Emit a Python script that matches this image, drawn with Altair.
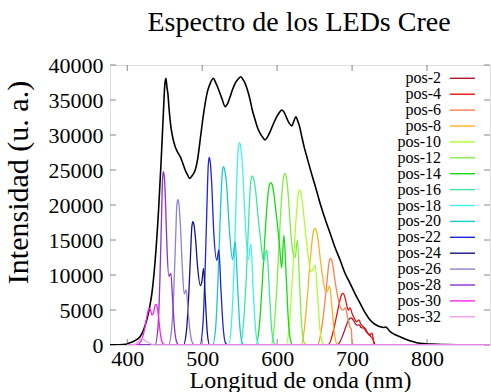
import altair as alt
import pandas as pd

# Axis ticks
x_ticks = [400, 500, 600, 700, 800]
y_ticks = [0, 5000, 10000, 15000, 20000, 25000, 30000, 35000, 40000]
x_domain = [377, 884]
y_domain = [0, 40000]

# Total spectrum (nm, intensity)
total = [(377, 30), (390, 40), (398, 100), (401.8, 240), (410, 600), (417, 1190), (422, 2200),
         (426, 3570), (429.5, 5200), (432.9, 7380), (437.3, 12140), (441.8, 19290), (445.3, 26430),
         (448.4, 33570), (450, 37000), (451.6, 38100), (453, 36800), (454.2, 35950), (456, 33500),
         (458.2, 31190), (461, 29500), (464, 28330), (467, 27600), (470.7, 26900), (474, 26000),
         (477.3, 25000), (480, 24400), (483.1, 23810), (486, 24100), (490.7, 25000), (494, 26600),
         (497.3, 29290), (500.5, 32000), (504, 34520), (507, 36200), (510.7, 37380), (515.1, 38100),
         (517.5, 37600), (520.4, 36900), (526.2, 35240), (530.7, 34050), (533.5, 34400), (537.3, 35480),
         (540.5, 36500), (544, 37380), (548, 38000), (551.6, 38330), (554, 38000), (557.3, 37380),
         (560.5, 36400), (564, 35000), (567, 33500), (570.7, 32140), (574, 31000), (577.3, 30240),
         (580.5, 29700), (584, 29290), (587, 29700), (590.7, 30480), (595, 31600), (599.6, 32620),
         (603, 33200), (606.2, 33570), (609, 33300), (612.9, 32380), (616, 31700), (619.6, 31300),
         (622, 31900), (625, 32600), (627.5, 32000), (630, 31200), (632.9, 29760), (636, 28300),
         (639.6, 26900), (644, 25200), (648.4, 23570), (653, 21900), (657.3, 20240), (664, 18000),
         (670.7, 15950), (677, 14000), (684, 12140), (690, 10400), (697.3, 8810), (704, 7300),
         (710.7, 5950), (717, 4700), (724, 3570), (730, 3000), (737.3, 2620), (742, 2500), (745, 2550),
         (750.7, 1900), (760, 1350), (768.4, 950), (777, 600), (786.2, 330), (795, 200), (804, 140),
         (820, 60), (840, 40), (860, 30), (884, 30)]

# Individual LED spectra (nm, intensity)
pos_2 = [(400, 0), (680, 0), (684, 500), (688, 1500), (692, 2700), (695, 3500), (697, 3800), (698.5, 3880),
         (700, 3800), (702, 3500), (704, 3100), (707, 2800), (709.5, 2900), (712, 2500), (715.6, 2400),
         (719, 1900), (722, 1500), (725, 1200), (728, 800), (731, 0), (884, 0)]
pos_4 = [(400, 0), (668, 0), (672, 800), (676, 2500), (680, 4500), (684, 6500), (686.2, 7250), (687.6, 7380),
         (689, 7250), (691, 6600), (693, 5600), (695, 5000), (697.5, 5300), (700, 4500), (703, 3800),
         (706, 3300), (709, 3600), (712, 2900), (715, 2600), (718, 2300), (721, 1700), (724, 1500),
         (726.7, 1710), (728.5, 600), (730, 0), (884, 0)]
pos_6 = [(400, 0), (654, 0), (658, 1500), (662, 4500), (666, 8500), (668.5, 11200), (670, 12200), (671.1, 12380),
         (672.5, 12200), (674.5, 11300), (677, 9300), (681, 6800), (685, 5200), (688, 5000), (691, 5300),
         (694, 4000), (697, 2600), (699, 2200), (700, 300), (703, 0), (884, 0)]
pos_8 = [(400, 0), (632, 0), (636, 2000), (640, 6500), (644, 12000), (647, 15200), (648.8, 16400), (650.2, 16670),
         (651.8, 16450), (654, 15500), (657, 12800), (661, 9500), (665, 7600), (667.5, 7800), (670, 8430),
         (673, 5500), (676, 2000), (679, 300), (682, 0), (884, 0)]
pos_10 = [(400, 0), (612, 0), (616, 2500), (620, 9000), (624, 16000), (626.5, 19800), (628.3, 21700), (629.8, 22140),
          (631.5, 21800), (633.5, 20500), (637, 17000), (641, 13000), (645, 10500), (648, 10800), (650.5, 11430),
          (654, 7000), (657, 2500), (660, 400), (663, 0), (884, 0)]
pos_12 = [(400, 0), (592, 0), (596, 2500), (600, 9000), (604, 17500), (607, 22500), (608.8, 24100), (610.4, 24520),
          (612, 24100), (614, 22500), (617, 18000), (620.5, 13500), (624, 12500), (627, 15000), (630, 8500),
          (633, 2500), (636, 300), (639, 0), (884, 0)]
pos_14 = [(400, 0), (572, 0), (576, 2500), (580, 8500), (584, 16000), (587.5, 21200), (589.8, 22900), (591.6, 23190),
          (593.4, 22900), (595.5, 21700), (599, 18500), (603, 14500), (606, 11000), (609, 15710), (612, 10000),
          (615, 3500), (618, 600), (621, 0), (884, 0)]
pos_16 = [(400, 0), (551, 0), (555, 3000), (559, 10000), (562.5, 19000), (564.8, 23300), (566.7, 24140), (568.6, 23800),
          (571, 22300), (574, 19000), (578, 15000), (582, 11900), (586.2, 13570), (589.5, 8000), (592.5, 2500),
          (595.5, 400), (598, 0), (884, 0)]
pos_18 = [(400, 0), (535, 0), (539, 3000), (542.5, 11000), (545.5, 21500), (548, 27900), (549.7, 28900), (551.4, 28300),
          (553.5, 26000), (557, 18500), (561.5, 12200), (564.9, 14430), (568, 8000), (571, 2500), (574, 300),
          (577, 0), (884, 0)]
pos_20 = [(400, 0), (514, 0), (518, 2500), (521, 9000), (524.5, 19500), (526.8, 24600), (528.4, 25480), (530, 25000),
          (532.5, 23000), (536, 17000), (540.5, 12200), (544, 14760), (547, 9000), (550, 3000), (553, 400),
          (556, 0), (884, 0)]
pos_22 = [(400, 0), (497, 0), (501, 3000), (504, 11000), (506.5, 20500), (508, 25500), (509.3, 26810), (510.7, 26200),
          (512.5, 23500), (515.5, 16000), (519.5, 12100), (522.2, 13570), (525, 8000), (528, 2500), (531, 300),
          (534, 0), (884, 0)]
pos_24 = [(400, 0), (475, 0), (479, 2000), (482, 7000), (484.5, 13000), (486.2, 16900), (487.6, 17620), (489, 17200),
          (491, 15300), (494, 11000), (497.5, 8500), (499.5, 9000), (501.8, 10950), (504, 7000), (507, 1500),
          (510, 0), (884, 0)]
pos_26 = [(400, 0), (455, 0), (459, 2000), (462, 7500), (464.5, 15000), (466.2, 20000), (467.6, 20810), (469, 20100),
          (471, 17000), (473.5, 11000), (476, 7300), (478.7, 7860), (481.5, 4500), (484, 1800), (487, 300),
          (490, 0), (884, 0)]
pos_28 = [(400, 0), (437, 0), (441, 2500), (443.5, 9000), (445.8, 18500), (447.2, 23800), (448.4, 24760),
          (449.6, 23900), (451.2, 20000), (453, 14000), (455.5, 9800), (458.2, 10240), (460.5, 6500),
          (463, 2500), (466, 400), (469, 0), (884, 0)]
pos_30 = [(400, 0), (412, 0), (418, 500), (422, 1700), (426, 3900), (428.5, 5100), (429.7, 5240), (431, 5000),
          (433, 4300), (435, 4600), (437.3, 5700), (438.7, 5810), (440.2, 5300), (442, 3800), (444, 1800),
          (447, 300), (451, 0), (884, 0)]
pos_32 = [(400, 0), (408, 0), (414, 400), (419.5, 960), (424, 600), (430, 250), (436, 0), (884, 0)]

series_names = ["pos-2", "pos-4", "pos-6", "pos-8", "pos-10", "pos-12", "pos-14", "pos-16",
                "pos-18", "pos-20", "pos-22", "pos-24", "pos-26", "pos-28", "pos-30", "pos-32"]
series_colors = ["#b2182b", "#ee1111", "#ff7f50", "#ffb020", "#adff2f", "#80ee40", "#11dd11",
                 "#3de8a0", "#3ff0f8", "#1ac8d0", "#2222dd", "#141486", "#9080d0", "#9030c8",
                 "#ff22ee", "#f49af0"]
series_points = [pos_2, pos_4, pos_6, pos_8, pos_10, pos_12, pos_14, pos_16,
                 pos_18, pos_20, pos_22, pos_24, pos_26, pos_28, pos_30, pos_32]

FONT = "Liberation Serif, Times New Roman, Times, serif"
chart_title = "Espectro de los LEDs Cree"

rows = []
for name, pts in zip(series_names, series_points):
    for nm, v in pts:
        rows.append({"serie": name, "nm": nm, "val": v})
leds = pd.DataFrame(rows)
total_df = pd.DataFrame(total, columns=["nm", "val"])

x_axis = alt.Axis(values=x_ticks, format="d", ticks=False, domain=False, grid=False,
                  labelFont=FONT, labelFontSize=22, labelColor="black", labelPadding=3,
                  labelFlush=False, title="Longitud de onda (nm)", titleFont=FONT,
                  titleFontSize=24, titleFontWeight="normal", titleColor="black",
                  titleX=190, titleY=42, titleBaseline="alphabetic", titleAlign="center")
y_axis = alt.Axis(values=y_ticks, format="d", ticks=False, domain=False, grid=False,
                  labelFont=FONT, labelFontSize=22, labelColor="black", labelPadding=7,
                  labelFlush=False, title="Intensidad (u. a.)", titleFont=FONT,
                  titleFontSize=30, titleFontWeight="normal", titleColor="black",
                  titleAngle=270, titleX=-83, titleY=117, titleBaseline="alphabetic",
                  titleAlign="center")


def xq(field="nm"):
    return alt.X(f"{field}:Q", scale=alt.Scale(domain=x_domain, nice=False, zero=False), axis=x_axis)


def yq(field="val"):
    return alt.Y(f"{field}:Q", scale=alt.Scale(domain=y_domain, nice=False), axis=y_axis)


color_scale = alt.Scale(domain=series_names, range=series_colors)

total_line = alt.Chart(total_df).mark_line(color="black", strokeWidth=1.6, clip=True,
                                            interpolate="monotone").encode(x=xq(), y=yq())

led_lines = alt.Chart(leds).mark_line(strokeWidth=1.3, clip=True, interpolate="monotone").encode(
    x=xq(), y=yq(),
    color=alt.Color("serie:N", scale=color_scale, legend=None),
    detail="serie:N",
)

# Legend inside the plot: label on the left, line sample on the right
legend_df = pd.DataFrame({"serie": series_names, "idx": list(range(len(series_names)))})
legend_base = alt.Chart(legend_df).transform_calculate(
    val="40000 - (13.3 + datum.idx * 15.9) * 40000 / 280"
)
legend_text = legend_base.mark_text(align="right", baseline="middle", font=FONT, fontSize=16,
                                    color="black").encode(
    x=alt.value(331), y=yq(), text="serie:N")
legend_rule = legend_base.mark_rule(strokeWidth=1.4).encode(
    x=alt.value(340), x2=alt.value(365), y=yq(),
    color=alt.Color("serie:N", scale=color_scale, legend=None))

# Chart title, centred over the plot
title_text = alt.Chart(pd.DataFrame({"t": [chart_title]})).mark_text(
    align="center", baseline="alphabetic", font=FONT, fontSize=28, color="black"
).encode(x=alt.value(189), y=alt.value(-34), text="t:N")

# Inward tick marks on all four sides
yt = pd.DataFrame({"val": y_ticks})
xt = pd.DataFrame({"nm": x_ticks})
tick_color = "#888888"
ticks_left = alt.Chart(yt).mark_rule(color=tick_color).encode(y=yq(), x=alt.value(0), x2=alt.value(6))
ticks_right = alt.Chart(yt).mark_rule(color=tick_color).encode(y=yq(), x=alt.value(374), x2=alt.value(380))
ticks_top = alt.Chart(xt).mark_rule(color=tick_color).encode(x=xq(), y=alt.value(0), y2=alt.value(6))
ticks_bottom = alt.Chart(xt).mark_rule(color=tick_color).encode(x=xq(), y=alt.value(274), y2=alt.value(280))

chart = alt.layer(
    ticks_left, ticks_right, ticks_top, ticks_bottom,
    total_line, led_lines, legend_text, legend_rule, title_text,
).properties(
    width=380, height=280,
    autosize=alt.AutoSizeParams(type="none"),
    padding={"left": 110, "top": 65, "right": 1, "bottom": 47},
).configure_view(stroke="#999999", strokeWidth=1).configure(background="white")

chart.save("out.html", embed_options={"renderer": "svg", "actions": False})
